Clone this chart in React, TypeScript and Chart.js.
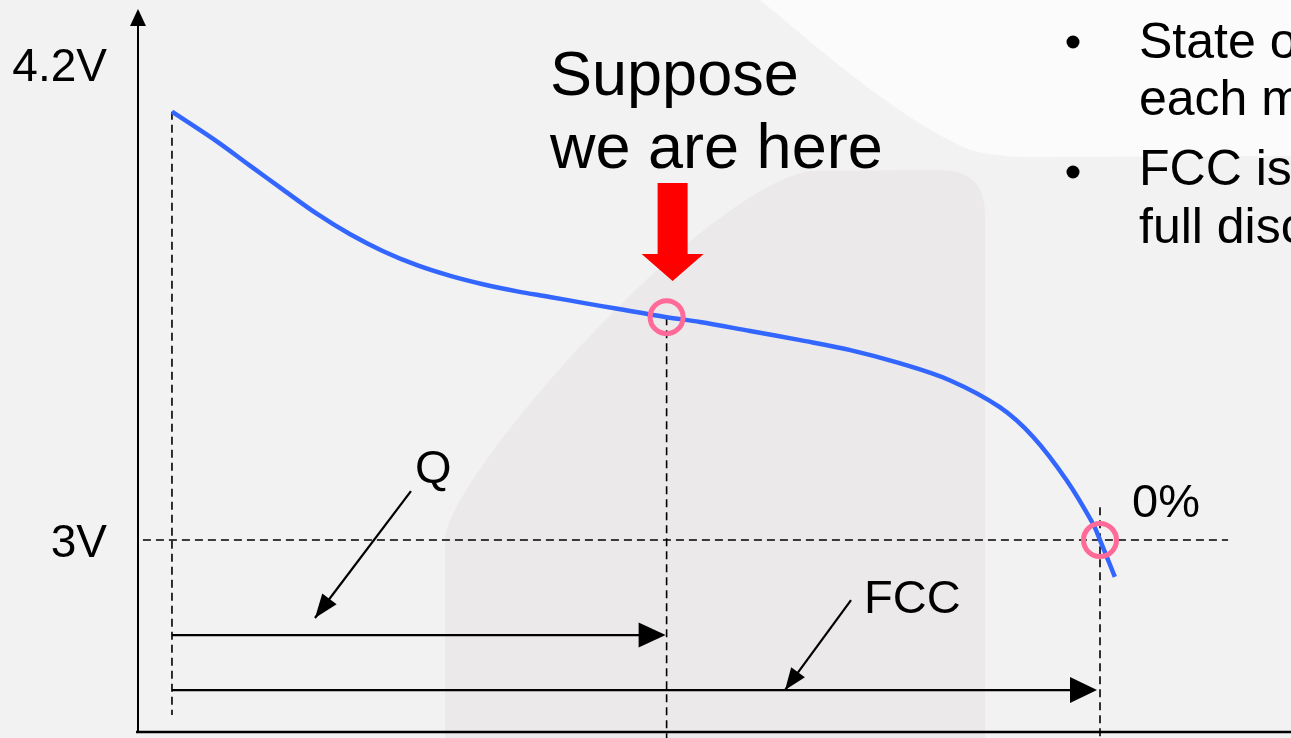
import React, { useEffect, useRef } from "react";
import { Chart, registerables } from "chart.js";

Chart.register(...registerables);

// ---- data ----
const capacity = [0, 4.9, 8.4, 12, 15.6, 19.2, 22.7, 26.4, 30, 33.5, 37.2, 40.7, 44.3, 48, 53.3, 56.9, 62.3, 67.7, 73.1, 78.4, 83.8, 89.2, 92.8, 96.4, 99.2, 100, 101.6];
const voltage = [4.08, 4.004, 3.944, 3.883, 3.823, 3.771, 3.729, 3.693, 3.666, 3.645, 3.627, 3.613, 3.598, 3.583, 3.562, 3.55, 3.527, 3.504, 3.479, 3.446, 3.403, 3.335, 3.26, 3.151, 3.043, 3.0, 2.907];
const markerCapacity = [53.3, 100];
const markerVoltage = [3.562, 3.0];
const yTickValues = [4.2, 3];
const yTickLabels = ["4.2V", "3V"];
const qValue = 53.3;
const fccValue = 100;
const cutoffVoltage = 3;
const qArrowVoltage = 2.7605;
const fccArrowVoltage = 2.6218;
const qPointerX = [25.75, 15.41];
const qPointerV = [3.1235, 2.8034];
const fccPointerX = [73.17, 66.06];
const fccPointerV = [2.8487, 2.6218];
const titleLines = ["Suppose", "we are here"];
const bulletLines = [["State o", "each m"], ["FCC is", "full disc"]];
const labelQ = "Q";
const labelFCC = "FCC";
const labelZero = "0%";

const FONT = '"Liberation Sans", Arial, "DejaVu Sans", sans-serif';

function head(ctx: CanvasRenderingContext2D, x1: number, y1: number, x2: number, y2: number, len: number, hw: number) {
  const a = Math.atan2(y2 - y1, x2 - x1);
  const bx = x2 - len * Math.cos(a);
  const by = y2 - len * Math.sin(a);
  const nx = -Math.sin(a) * hw;
  const ny = Math.cos(a) * hw;
  ctx.beginPath();
  ctx.moveTo(x2, y2);
  ctx.lineTo(bx + nx, by + ny);
  ctx.lineTo(bx - nx, by - ny);
  ctx.closePath();
  ctx.fill();
}

const overlay = {
  id: "overlay",
  beforeDraw(chart: any) {
    const ctx: CanvasRenderingContext2D = chart.ctx;
    const W = chart.width;
    const H = chart.height;
    ctx.save();
    ctx.fillStyle = "#f2f2f2";
    ctx.fillRect(0, 0, W, H);
    // light top-right shape
    ctx.fillStyle = "#fbfbfb";
    ctx.beginPath();
    ctx.moveTo(760, 0);
    ctx.bezierCurveTo(820, 50, 900, 120, 970, 150);
    ctx.quadraticCurveTo(1000, 158, 1040, 157);
    ctx.lineTo(W, 156);
    ctx.lineTo(W, 0);
    ctx.closePath();
    ctx.fill();
    // darker watermark shape
    ctx.fillStyle = "#ebe9ea";
    ctx.beginPath();
    ctx.moveTo(445, H);
    ctx.lineTo(445, 540);
    ctx.bezierCurveTo(445, 480, 700, 190, 810, 171);
    ctx.lineTo(940, 170);
    ctx.quadraticCurveTo(985, 170, 985, 215);
    ctx.lineTo(985, H);
    ctx.closePath();
    ctx.fill();
    ctx.restore();
  },
  afterDatasetsDraw(chart: any) {
    const ctx: CanvasRenderingContext2D = chart.ctx;
    const xs = chart.scales.x;
    const ys = chart.scales.y;
    const area = chart.chartArea;
    const px = (v: number) => xs.getPixelForValue(v);
    const py = (v: number) => ys.getPixelForValue(v);
    ctx.save();
    ctx.fillStyle = "#000";
    ctx.strokeStyle = "#000";

    // axes
    ctx.lineWidth = 2;
    ctx.beginPath();
    ctx.moveTo(area.left, area.bottom);
    ctx.lineTo(area.left, area.top + 15);
    ctx.stroke();
    ctx.beginPath();
    ctx.moveTo(area.left, area.top);
    ctx.lineTo(area.left - 8, area.top + 17);
    ctx.lineTo(area.left + 8, area.top + 17);
    ctx.closePath();
    ctx.fill();
    ctx.lineWidth = 2.5;
    ctx.beginPath();
    ctx.moveTo(area.left - 2, area.bottom);
    ctx.lineTo(area.right, area.bottom);
    ctx.stroke();

    // horizontal arrow heads
    const qy = py(qArrowVoltage);
    head(ctx, px(0), qy, px(qValue) - 1, qy, 27, 12.5);
    const fy = py(fccArrowVoltage);
    head(ctx, px(0), fy, px(fccValue) - 3, fy, 27, 13);
    // pointer arrow heads
    head(ctx, px(qPointerX[0]), py(qPointerV[0]), px(qPointerX[1]), py(qPointerV[1]), 24, 9);
    head(ctx, px(fccPointerX[0]), py(fccPointerV[0]), px(fccPointerX[1]), py(fccPointerV[1]), 22, 8.5);

    // red arrow above Q point
    const tx = px(qValue) + 6;
    const ty = 281;
    ctx.fillStyle = "#ff0000";
    ctx.beginPath();
    ctx.moveTo(tx - 15, ty - 98);
    ctx.lineTo(tx + 15, ty - 98);
    ctx.lineTo(tx + 15, ty - 27);
    ctx.lineTo(tx + 31, ty - 27);
    ctx.lineTo(tx, ty);
    ctx.lineTo(tx - 31, ty - 27);
    ctx.lineTo(tx - 15, ty - 27);
    ctx.closePath();
    ctx.fill();

    // texts
    ctx.fillStyle = "#000";
    ctx.textBaseline = "alphabetic";
    ctx.textAlign = "right";
    ctx.font = `46px ${FONT}`;
    yTickValues.forEach((v, i) => {
      ctx.fillText(yTickLabels[i], 107, py(v) + 16.5);
    });
    ctx.textAlign = "left";
    ctx.font = `63px ${FONT}`;
    ctx.fillText(titleLines[0], 550, 95);
    ctx.fillText(titleLines[1], 550, 168);
    ctx.font = `47px ${FONT}`;
    ctx.fillText(labelQ, 415, 483);
    ctx.fillText(labelFCC, 864, 613);
    ctx.fillText(labelZero, 1132, 517);

    ctx.font = `50px ${FONT}`;
    const bulletY = [42, 172];
    const lineBase = [[58, 115], [185, 243]];
    bulletLines.forEach((lines, i) => {
      ctx.beginPath();
      ctx.arc(1073, bulletY[i], 6.5, 0, Math.PI * 2);
      ctx.fill();
      lines.forEach((t, j) => ctx.fillText(t, 1139, lineBase[i][j]));
    });
    ctx.restore();
  },
};

function dashed(xv: number[], yv: number[]) {
  return {
    data: xv.map((x, i) => ({ x, y: yv[i] })),
    borderColor: "#000",
    borderWidth: 1.6,
    borderDash: [8, 5],
    pointRadius: 0,
    fill: false,
    clip: false as any,
    order: 5,
  };
}

function solid(xv: number[], yv: number[]) {
  return {
    data: xv.map((x, i) => ({ x, y: yv[i] })),
    borderColor: "#000",
    borderWidth: 2.2,
    pointRadius: 0,
    fill: false,
    clip: false as any,
    order: 4,
  };
}

export default function App() {
  const ref = useRef<HTMLCanvasElement>(null);
  useEffect(() => {
    if (!ref.current) return;
    const chart = new Chart(ref.current, {
      type: "line",
      data: {
        datasets: [
          {
            data: markerCapacity.map((x, i) => ({ x, y: markerVoltage[i] })),
            showLine: false,
            pointRadius: 16.5,
            pointBorderWidth: 5,
            borderWidth: 5,
            pointBorderColor: "#ff6a98",
            borderColor: "#ff6a98",
            pointBackgroundColor: "rgba(0,0,0,0)",
            backgroundColor: "rgba(0,0,0,0)",
            clip: false,
            order: 0,
          } as any,
          {
            data: capacity.map((x, i) => ({ x, y: voltage[i] })),
            borderColor: "#3366ff",
            borderWidth: 4.5,
            pointRadius: 0,
            tension: 0.35,
            fill: false,
            clip: false,
            order: 1,
          } as any,
          dashed([0, 0], [voltage[0], 2.559]),
          dashed([qValue, qValue], [markerVoltage[0], 2.49]),
          dashed([fccValue, fccValue], [3.083, 2.49]),
          dashed([-3.13, 113.8], [cutoffVoltage, cutoffVoltage]),
          solid([0, qValue - 2.5], [qArrowVoltage, qArrowVoltage]),
          solid([0, fccValue - 2.8], [fccArrowVoltage, fccArrowVoltage]),
          solid(qPointerX, qPointerV),
          solid(fccPointerX, fccPointerV),
        ] as any,
      },
      options: {
        animation: false,
        responsive: false,
        devicePixelRatio: 1,
        events: [],
        layout: { autoPadding: false, padding: { left: 138, right: 0, top: 9, bottom: 6 } },
        plugins: { legend: { display: false }, tooltip: { enabled: false }, title: { display: false } },
        scales: {
          x: { type: "linear", display: false, min: -3.66, max: 120.58 },
          y: { type: "linear", display: false, min: 2.516, max: 4.339 },
        },
      } as any,
      plugins: [overlay],
    });
    return () => chart.destroy();
  }, []);
  return (
    <div style={{ position: "fixed", left: 0, top: 0, width: 1291, height: 738 }}>
      <canvas ref={ref} width={1291} height={738} style={{ display: "block" }} />
    </div>
  );
}
